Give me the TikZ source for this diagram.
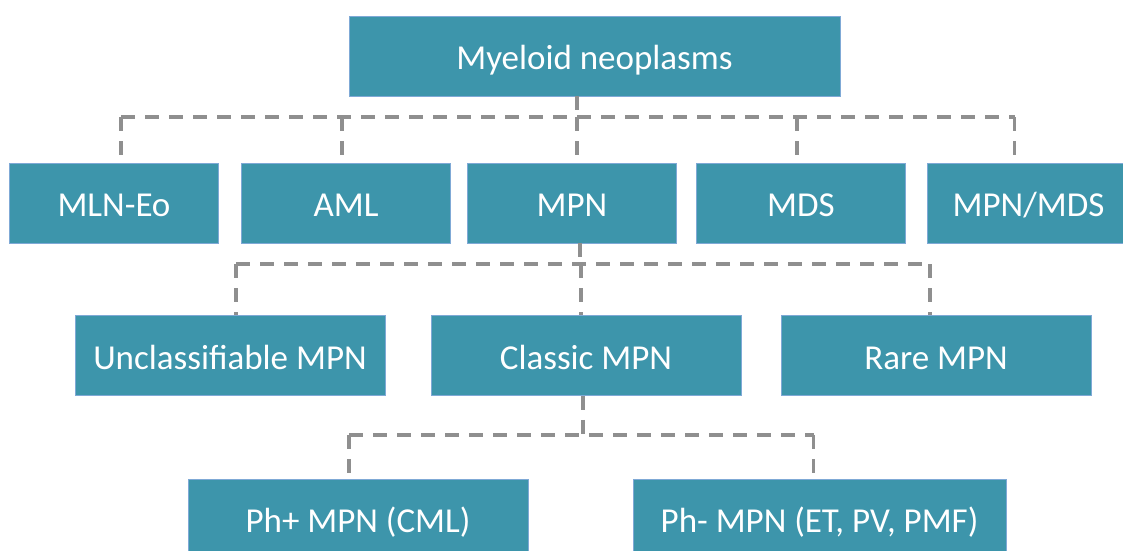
\documentclass[tikz,border=0pt]{standalone}
\usepackage{fontspec}
\setmainfont{Carlito}
\usetikzlibrary{calc}

\definecolor{boxteal}{HTML}{3D95AB}
\definecolor{boxedge}{HTML}{7FA9D6}
\definecolor{linegray}{HTML}{8F8F8F}

\begin{document}
\begin{tikzpicture}[x=1pt, y=-1pt,
		box/.style={fill=boxteal, draw=boxedge, line width=0.8pt, text=white,
			font=\fontsize{35}{40}\selectfont, inner sep=0pt, minimum height=80pt,
			text height=27pt, text depth=0pt},
		link/.style={linegray, line width=3.5pt, dash pattern=on 14pt off 10pt}]
		\useasboundingbox (0,0) rectangle (1123,550);

		% rows
		\def\rowA{56};
		\def\rowB{203};
		\def\rowC{355.5};
		\def\rowD{519};

		\node[box, minimum width=491pt] (top) at (594.5,\rowA) {Myeloid neoplasms};

		\begin{scope}[every node/.append style={minimum width=209pt}]
			\node[box] (mln) at (114,\rowB) {MLN-Eo};
			\node[box] (aml) at (346,\rowB) {AML};
			\node[box] (mpn) at (572,\rowB) {MPN};
			\node[box] (mds) at (801,\rowB) {MDS};
			\node[box, minimum width=203pt] (mpnmds) at (1028.5,\rowB) {MPN/MDS};
		\end{scope}

		\begin{scope}[every node/.append style={minimum width=310pt, minimum height=79pt}]
			\node[box] (uncl) at (230,\rowC) {Unclassifiable MPN};
			\node[box] (classic) at (586,\rowC) {Classic MPN};
			\node[box] (rare) at (936,\rowC) {Rare MPN};
		\end{scope}

		\begin{scope}[every node/.append style={minimum height=84pt}]
			\node[box, minimum width=340pt] (phpos) at (358,\rowD) {Ph+ MPN (CML)};
			\node[box, minimum width=373pt] (phneg) at (819.5,\rowD) {Ph- MPN (ET, PV, PMF)};
		\end{scope}

		% buses
		\coordinate (busA) at (577,117);
		\coordinate (busB) at (580,264);
		\coordinate (busC) at (583,435);

		\draw[link] (top.south -| busA) -- (busA);
		\draw[link] ([xshift=7pt]mln.north |- busA) -- ([xshift=-14pt]mpnmds.north |- busA);
		\foreach \n/\s in {mln/7, aml/-4, mpn/5, mds/-4, mpnmds/-14}
			\draw[link] ([xshift=\s pt]\n.north |- busA) -- ([xshift=\s pt]\n.north);

		\draw[link] (mpn.south -| busB) -- (busB);
		\draw[link] ([xshift=6pt]uncl.north |- busB) -- ([xshift=-6pt]rare.north |- busB);
		\foreach \n/\s in {uncl/6, classic/-5, rare/-6}
			\draw[link] ([xshift=\s pt]\n.north |- busB) -- ([xshift=\s pt]\n.north);

		\draw[link] (classic.south -| busC) -- (busC);
		\draw[link] ([xshift=-9pt]phpos.north |- busC) -- ([xshift=-6pt]phneg.north |- busC);
		\foreach \n/\s in {phpos/-9, phneg/-6}
			\draw[link] ([xshift=\s pt]\n.north |- busC) -- ([xshift=\s pt]\n.north);
	\end{tikzpicture}
\end{document}
